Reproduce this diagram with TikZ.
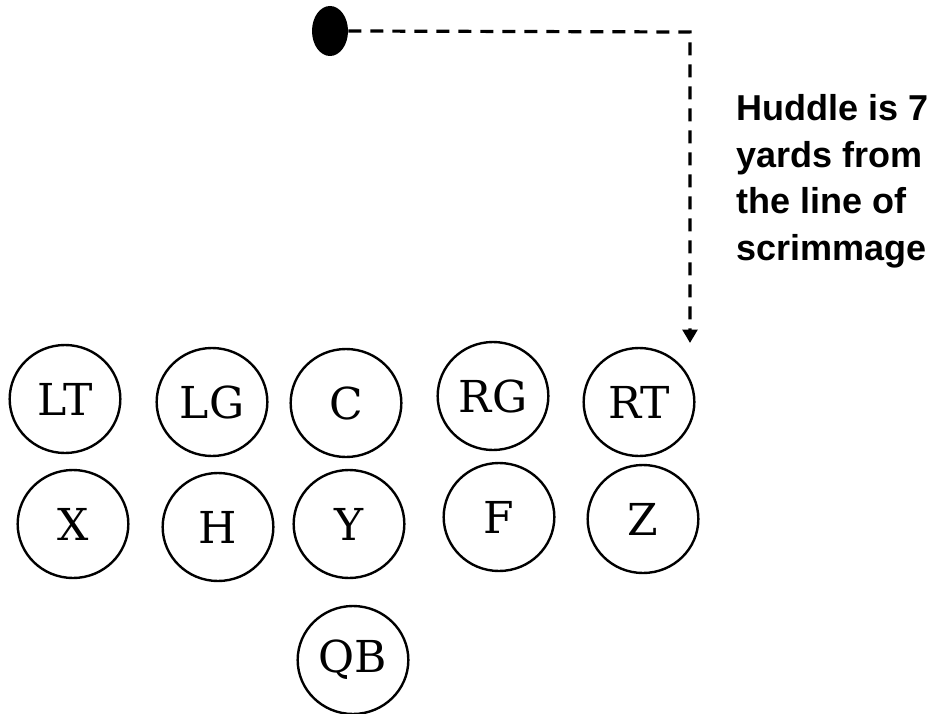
\documentclass[tikz,border=0pt]{standalone}
\usepackage{fontspec}
\newfontfamily\notefont{Liberation Sans}
\newfontfamily\playerfont{DejaVu Serif}
\usetikzlibrary{arrows.meta,shapes.geometric}

\tikzset{
  player/.style={draw, ellipse, line width=1.8pt, minimum width=83pt, minimum height=81pt,
    inner sep=0pt, font=\playerfont\fontsize{33}{38}\selectfont},
  ball/.style={ellipse, fill=black, minimum width=27pt, minimum height=37.5pt, inner sep=0pt},
  path/.style={line width=2.4pt, dash pattern=on 9.75pt off 6.75pt}
}

\begin{document}
\begin{tikzpicture}[x=0.75pt, y=-0.75pt]
        \useasboundingbox (0,0) rectangle (944,713);

        % Draw the ball and the huddle path
        \node[ball] (ball) at (330,31) {};
        \coordinate (corner) at (690,32);
        \coordinate (line) at (690,343);
        \draw[path, -{Triangle[width=11pt, length=10pt]}] (ball.east) -- (corner) -- (line);

        % Add the note
        \node[anchor=north west, align=left, inner sep=0pt,
          font=\notefont\bfseries\fontsize{27}{35}\selectfont] (note) at (736,94)
          {Huddle is 7\\yards from\\the line of\\scrimmage};

        % Draw the front row
        \node[player] (lt) at (65,399) {LT};
        \node[player] (lg) at (212,402) {LG};
        \node[player] (c) at (346,403) {C};
        \node[player] (rg) at (493,396) {RG};
        \node[player] (rt) at (639,402) {RT};

        % Draw the back row
        \node[player] (x) at (73,524) {X};
        \node[player] (h) at (218,527) {H};
        \node[player] (y) at (349,524) {Y};
        \node[player] (f) at (499,517) {F};
        \node[player] (z) at (643,519) {Z};

        % Add the quarterback
        \node[player] (qb) at (353,660) {QB};
    \end{tikzpicture}
\end{document}
